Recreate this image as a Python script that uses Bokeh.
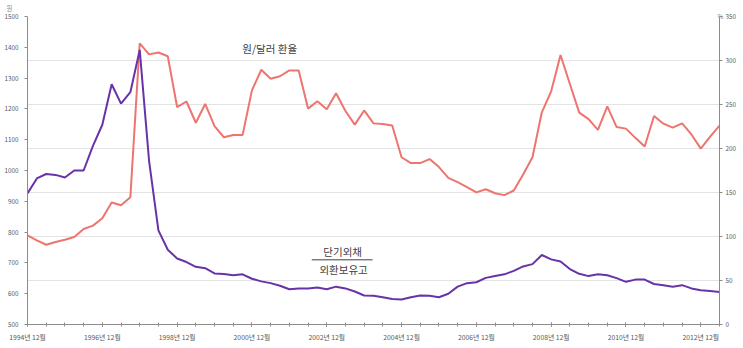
from bokeh.plotting import figure
from bokeh.models import (Range1d, LinearAxis, FixedTicker, Grid, Label, ColumnDataSource, Title)
from bokeh.embed import file_html
from bokeh.resources import INLINE

# Quarterly periods, 1994-12 .. 2013-06
quarters = []
for i in range(75):
    tm = 1994 * 12 + 11 + 3 * i
    quarters.append(f"{tm // 12}년 {tm % 12 + 1}월")

# 원/달러 환율 (left axis, 원)
won_dollar = [789, 773, 759, 768, 775, 784, 810, 821, 845, 896, 887, 913, 1413, 1377, 1383, 1371, 1206, 1224, 1155,
              1216, 1144, 1108, 1115, 1115, 1260, 1327, 1298, 1306, 1325, 1325, 1201, 1225, 1199, 1251, 1193, 1149, 1195, 1153,
              1151, 1146, 1043, 1024, 1024, 1037, 1011, 976, 962, 946, 929, 939, 926, 920, 935, 987, 1043, 1189, 1257,
              1375, 1281, 1188, 1167, 1132, 1208, 1141, 1136, 1106, 1078, 1177, 1152, 1139, 1153, 1117, 1071, 1110, 1146]

# 단기외채 / 외환보유고 (right axis, %)
debt_ratio = [149, 166, 171, 170, 167, 175, 175, 203, 227, 273, 251, 264, 312, 186, 107, 85, 75, 71, 65.5,
              64, 58, 57.5, 56, 57, 52, 49, 47, 44, 40, 41, 41, 42, 40, 43, 41, 37.5, 33, 32.6,
              31, 29, 28.4, 31, 33, 32.6, 31, 35, 43, 47, 48, 53, 55, 57, 61, 66, 68.6, 79, 74,
              71.6, 63, 57.6, 55, 57, 56, 52.7, 48.5, 51, 51, 46, 44.7, 43, 44.7, 41, 39, 38, 37]

left_ticks = [500, 600, 700, 800, 900, 1000, 1100, 1200, 1300, 1400, 1500]
right_ticks = [0, 50, 100, 150, 200, 250, 300, 350]

FONT = "Noto Sans CJK KR"
AXIS_COL = "#8c8c8c"
LABEL_COL = "#595959"

xs = list(range(len(quarters)))
src = ColumnDataSource(dict(x=xs, won=won_dollar, ratio=debt_ratio))

p = figure(width=743, height=348, output_backend="svg", toolbar_location=None,
           x_range=Range1d(0, len(quarters) - 1), y_range=Range1d(500, 1500),
           min_border_left=27, min_border_right=24, min_border_top=0, min_border_bottom=24,
           x_axis_type=None, y_axis_type=None)
p.outline_line_color = None
p.background_fill_color = "white"
p.border_fill_color = "white"
p.extra_y_ranges = {"right": Range1d(0, 350)}

# unit labels as small titles above the frame
p.add_layout(Title(text="%", align="right", offset=-4, standoff=-8, text_font=FONT, text_font_size="6.5px",
                   text_color="#8c8c8c", text_font_style="normal", text_line_height=1.0), "above")
p.add_layout(Title(text="원", align="left", offset=-21, standoff=0, text_font=FONT, text_font_size="6.5px",
                   text_color="#8c8c8c", text_font_style="normal", text_line_height=1.0), "above")

# grid on the right-axis scale
grid = Grid(dimension=1, ticker=FixedTicker(ticks=[50, 100, 150, 200, 250, 300]), y_range_name="right",
            grid_line_color="#e3e3e3", grid_line_width=1)
p.add_layout(grid, "center")

# x axis
major = list(range(0, len(quarters), 8))
minor = list(range(0, len(quarters), 2))
xaxis = LinearAxis(ticker=FixedTicker(ticks=major, minor_ticks=minor),
                   major_label_overrides={i: quarters[i] for i in major})
xaxis.axis_line_color = AXIS_COL
xaxis.major_tick_line_color = AXIS_COL
xaxis.minor_tick_line_color = AXIS_COL
xaxis.major_tick_in = 2
xaxis.major_tick_out = 2
xaxis.minor_tick_in = 2
xaxis.minor_tick_out = 2
xaxis.major_label_standoff = 5
xaxis.major_label_text_font = FONT
xaxis.major_label_text_font_size = "6.8px"
xaxis.major_label_text_color = LABEL_COL
p.add_layout(xaxis, "below")

# left axis
laxis = LinearAxis(ticker=FixedTicker(ticks=left_ticks))
laxis.axis_line_color = AXIS_COL
laxis.major_tick_line_color = AXIS_COL
laxis.minor_tick_line_color = None
laxis.major_tick_in = 0
laxis.major_tick_out = 3
laxis.major_label_standoff = 6
laxis.major_label_text_font = FONT
laxis.major_label_text_font_size = "6.3px"
laxis.major_label_text_color = LABEL_COL
p.add_layout(laxis, "left")

# right axis
raxis = LinearAxis(y_range_name="right", ticker=FixedTicker(ticks=right_ticks))
raxis.axis_line_color = AXIS_COL
raxis.major_tick_line_color = AXIS_COL
raxis.minor_tick_line_color = None
raxis.major_tick_in = 0
raxis.major_tick_out = 3
raxis.major_label_standoff = 3
raxis.major_label_text_font = FONT
raxis.major_label_text_font_size = "6.3px"
raxis.major_label_text_color = LABEL_COL
p.add_layout(raxis, "right")

p.line("x", "won", source=src, line_color="#ee746e", line_width=2)
p.line("x", "ratio", source=src, y_range_name="right", line_color="#6933a8", line_width=2)

# annotations
p.add_layout(Label(x=25.9, y=1396, text="원/달러 환율", text_font=FONT, text_font_size="10.5px",
                   text_color="#404040", text_align="center", text_baseline="middle"))
p.add_layout(Label(x=33.7, y=83, y_range_name="right", text="단기외채", text_font=FONT, text_font_size="10.5px",
                   text_color="#404040", text_align="center", text_baseline="middle"))
p.add_layout(Label(x=33.8, y=62.5, y_range_name="right", text="외환보유고", text_font=FONT, text_font_size="10.5px",
                   text_color="#404040", text_align="center", text_baseline="middle"))
frac = ColumnDataSource(dict(x0=[30.4], x1=[36.9], y0=[73.5], y1=[73.5]))
p.segment("x0", "y0", "x1", "y1", source=frac, y_range_name="right", line_color="#404040", line_width=1)

open("out.html", "w").write(file_html(p, INLINE))
